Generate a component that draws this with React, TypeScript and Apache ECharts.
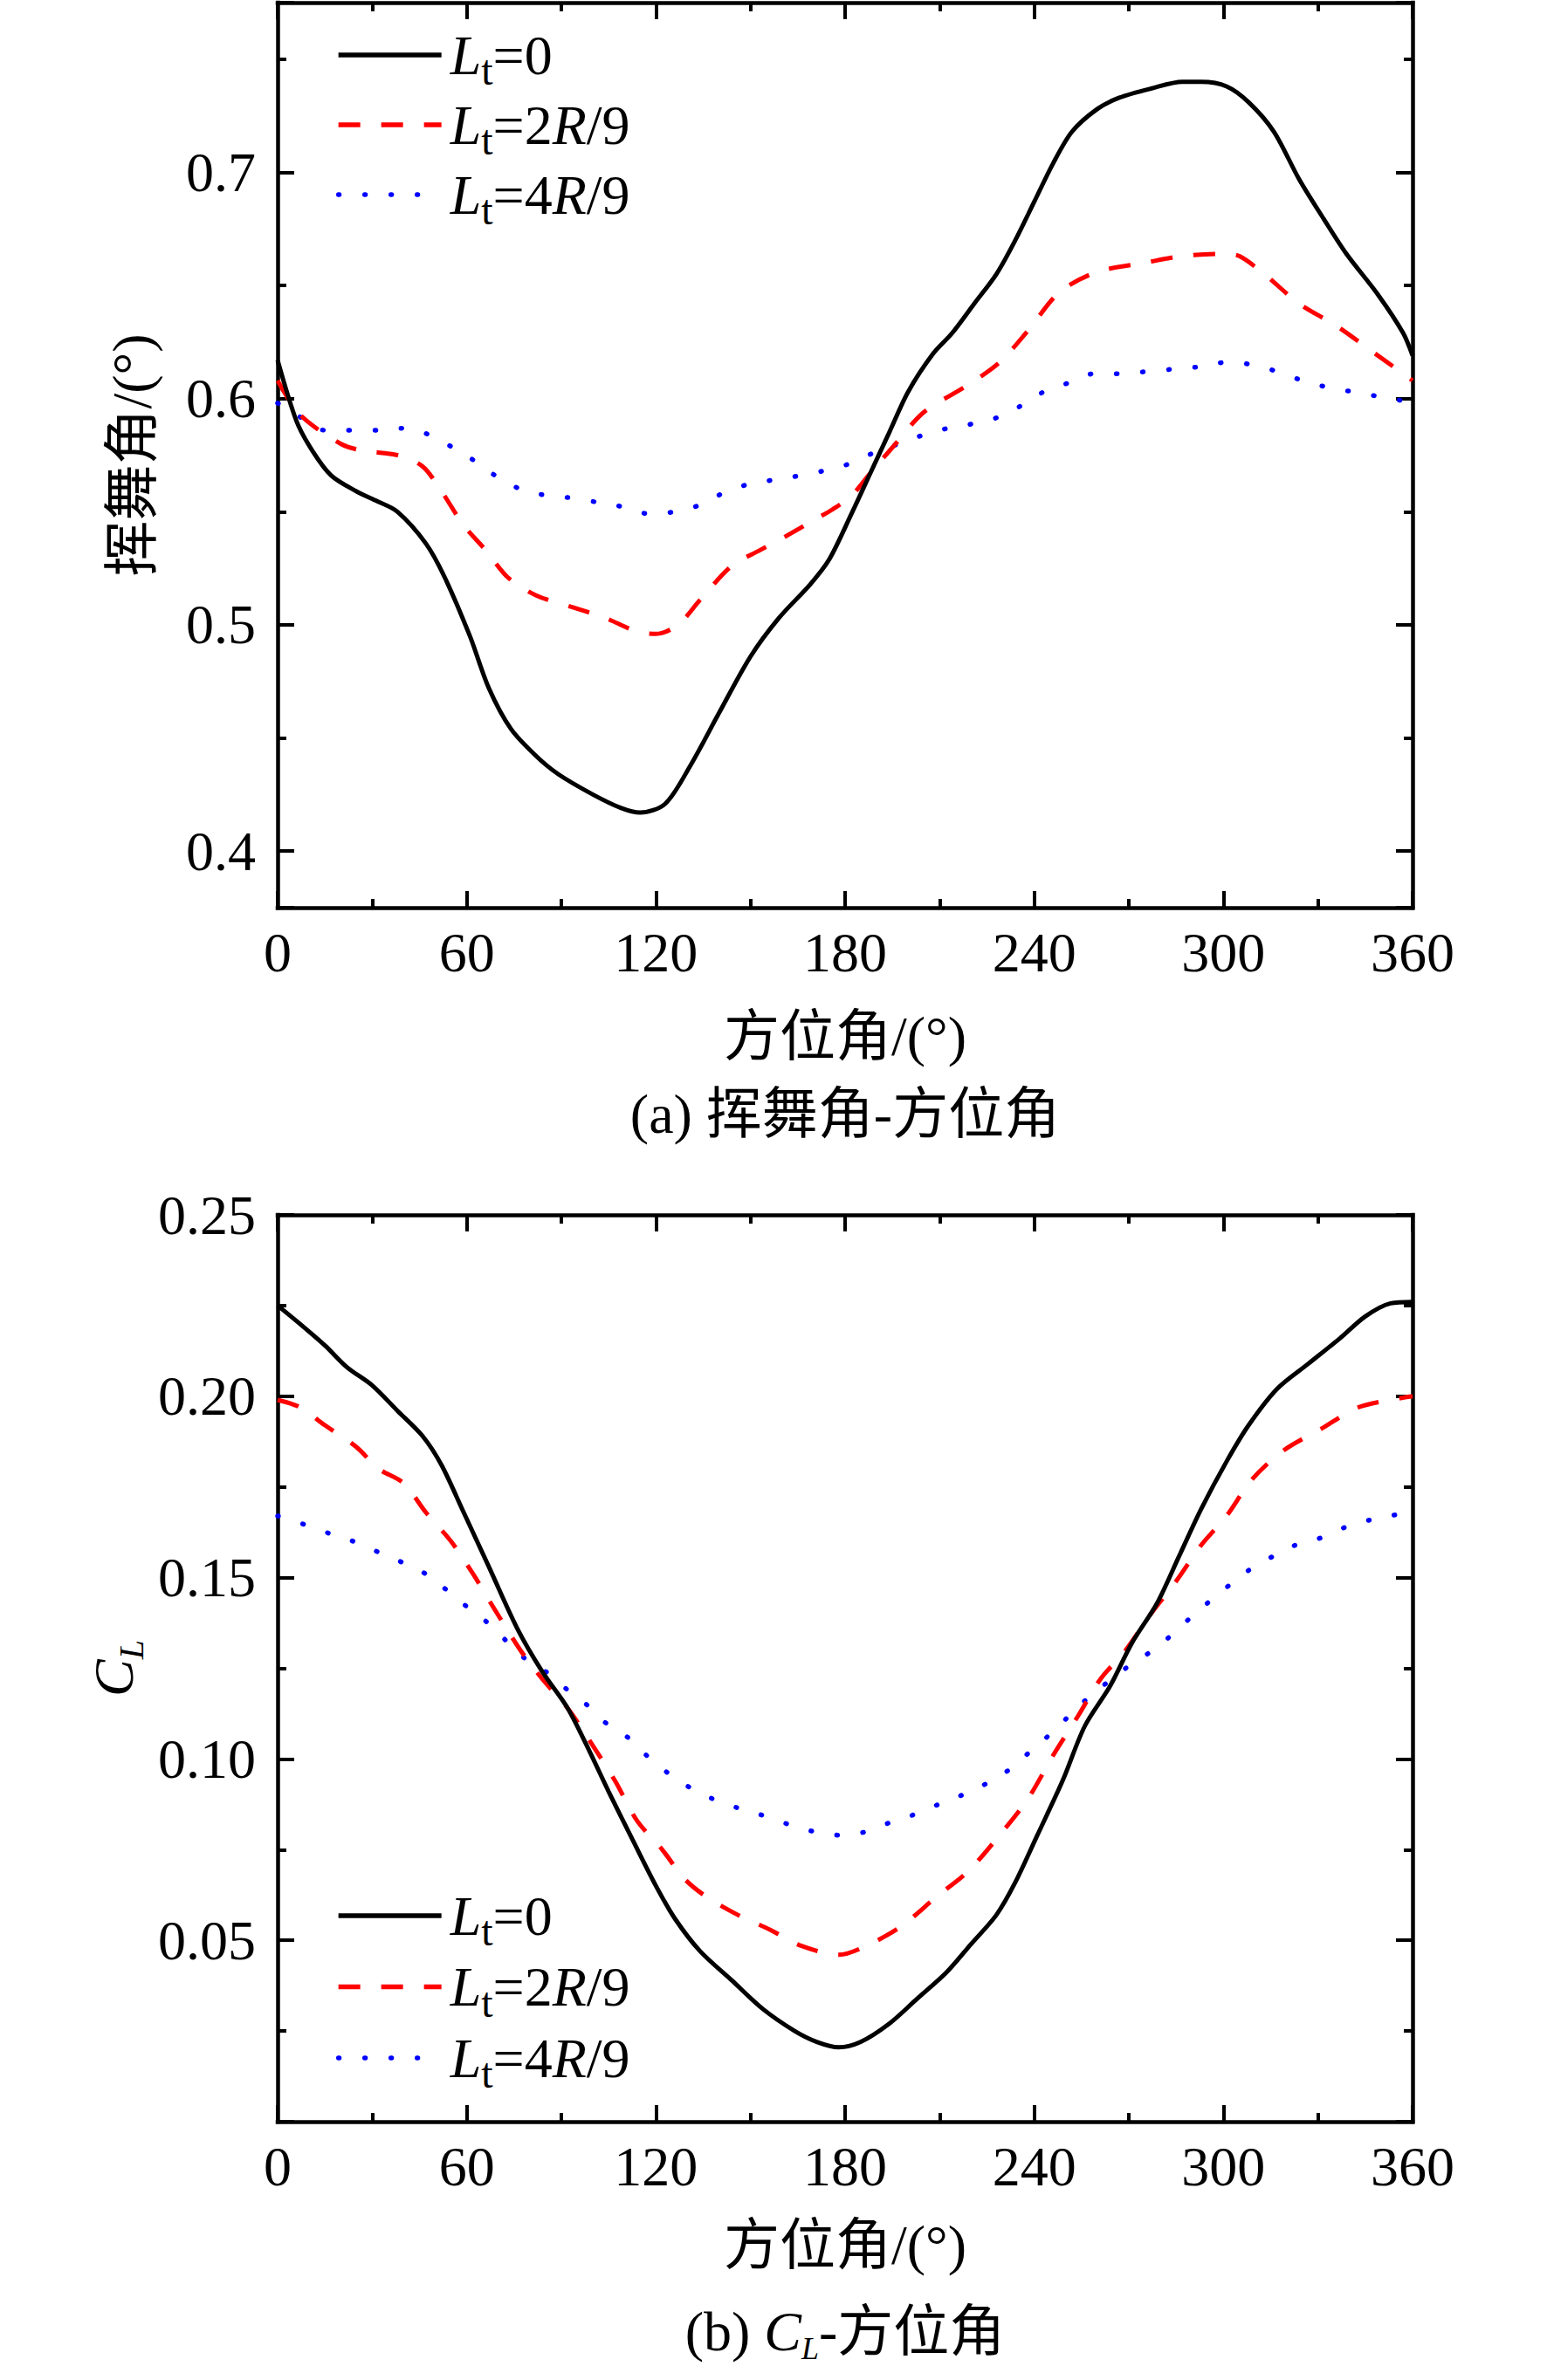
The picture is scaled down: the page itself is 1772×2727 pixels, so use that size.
import React, { useEffect, useRef } from "react";
import * as echarts from "echarts";

// ---------- data ----------
const SERIES_NAMES = ["Lt=0", "Lt=2R/9", "Lt=4R/9"];
const SERIES_COLORS = ["#000000", "#ff0000", "#0000ff"];

// (a) flapping angle vs azimuth
const A_BLACK_X = [0, 6, 11, 17, 25, 31, 38, 47, 53, 61, 67, 74, 82, 89, 100, 109, 115, 123, 131, 140, 150, 159, 169, 175, 182, 188, 194, 200, 208, 214, 221, 228, 234, 240, 246, 252, 260, 267, 277, 287, 293, 301, 308, 316, 324, 332, 339, 349, 357, 360];
const A_BLACK_Y = [0.617, 0.590, 0.577, 0.566, 0.559, 0.555, 0.550, 0.536, 0.521, 0.495, 0.472, 0.454, 0.442, 0.434, 0.425, 0.419, 0.417, 0.421, 0.438, 0.461, 0.486, 0.503, 0.518, 0.529, 0.549, 0.567, 0.585, 0.603, 0.620, 0.629, 0.642, 0.655, 0.670, 0.687, 0.704, 0.718, 0.728, 0.733, 0.737, 0.740, 0.740, 0.738, 0.731, 0.718, 0.697, 0.679, 0.664, 0.646, 0.629, 0.619];

const A_RED_X = [0, 7, 20, 27, 38, 46, 52, 59, 66, 73, 82, 93, 104, 114, 120, 127, 134, 144, 153, 161, 171, 176, 182, 188, 196, 205, 219, 229, 238, 248, 260, 275, 287, 300, 305, 313, 324, 336, 348, 360];
const A_RED_Y = [0.608, 0.593, 0.580, 0.577, 0.575, 0.570, 0.559, 0.544, 0.533, 0.521, 0.513, 0.508, 0.503, 0.497, 0.496, 0.500, 0.511, 0.526, 0.533, 0.539, 0.547, 0.551, 0.557, 0.567, 0.580, 0.594, 0.606, 0.616, 0.630, 0.647, 0.656, 0.660, 0.663, 0.664, 0.663, 0.655, 0.642, 0.632, 0.620, 0.608];

const A_BLUE_X = [0, 7, 15, 25, 32, 41, 48, 56, 63, 69, 77, 86, 94, 102, 110, 118, 126, 134, 141, 149, 157, 166, 173, 181, 189, 197, 205, 213, 221, 229, 236, 243, 251, 259, 267, 276, 284, 292, 301, 309, 317, 325, 333, 341, 349, 357, 360];
const A_BLUE_Y = [0.598, 0.592, 0.586, 0.586, 0.586, 0.587, 0.584, 0.578, 0.572, 0.566, 0.560, 0.557, 0.556, 0.554, 0.552, 0.549, 0.550, 0.553, 0.558, 0.562, 0.564, 0.566, 0.568, 0.571, 0.576, 0.580, 0.584, 0.587, 0.589, 0.592, 0.597, 0.603, 0.607, 0.611, 0.611, 0.612, 0.613, 0.614, 0.616, 0.615, 0.612, 0.608, 0.605, 0.603, 0.601, 0.599, 0.598];

// (b) lift coefficient vs azimuth
const B_BLACK_X = [0, 7, 15, 22, 30, 38, 46, 52, 59, 67, 76, 84, 92, 99, 105, 113, 120, 126, 134, 144, 154, 164, 171, 178, 185, 194, 203, 212, 220, 228, 234, 241, 249, 256, 264, 271, 279, 286, 293, 301, 308, 317, 327, 337, 345, 353, 360];
const B_BLACK_Y = [0.225, 0.220, 0.214, 0.208, 0.203, 0.196, 0.189, 0.181, 0.168, 0.153, 0.136, 0.124, 0.114, 0.102, 0.091, 0.077, 0.065, 0.056, 0.047, 0.039, 0.031, 0.025, 0.022, 0.0205, 0.022, 0.027, 0.034, 0.041, 0.049, 0.057, 0.066, 0.079, 0.094, 0.109, 0.120, 0.132, 0.143, 0.156, 0.169, 0.182, 0.192, 0.202, 0.209, 0.216, 0.222, 0.2256, 0.226];

const B_RED_X = [0, 7, 15, 25, 32, 40, 47, 55, 62, 69, 77, 84, 92, 99, 107, 114, 122, 129, 136, 146, 156, 166, 178, 188, 198, 209, 219, 229, 238, 246, 254, 261, 269, 277, 285, 293, 301, 309, 319, 331, 343, 360];
const B_RED_Y = [0.199, 0.197, 0.192, 0.186, 0.180, 0.176, 0.168, 0.160, 0.151, 0.141, 0.130, 0.122, 0.114, 0.105, 0.094, 0.083, 0.075, 0.067, 0.062, 0.057, 0.053, 0.0485, 0.046, 0.049, 0.054, 0.062, 0.069, 0.079, 0.089, 0.101, 0.112, 0.122, 0.130, 0.140, 0.149, 0.159, 0.167, 0.177, 0.185, 0.191, 0.197, 0.200];

const B_BLUE_X = [0, 9, 17, 24, 32, 40, 47, 53, 60, 66, 72, 78, 86, 92, 98, 104, 111, 117, 124, 131, 138, 146, 154, 162, 170, 178, 187, 194, 202, 210, 217, 225, 232, 238, 244, 250, 256, 263, 269, 276, 282, 289, 295, 302, 308, 316, 323, 331, 339, 347, 356, 360];
const B_BLUE_Y = [0.167, 0.1645, 0.162, 0.160, 0.157, 0.154, 0.151, 0.147, 0.142, 0.138, 0.133, 0.128, 0.1235, 0.119, 0.115, 0.110, 0.106, 0.101, 0.096, 0.092, 0.089, 0.0865, 0.0844, 0.082, 0.080, 0.079, 0.080, 0.0824, 0.0847, 0.0876, 0.090, 0.0933, 0.097, 0.1015, 0.106, 0.111, 0.116, 0.121, 0.125, 0.129, 0.133, 0.1385, 0.143, 0.148, 0.152, 0.156, 0.159, 0.161, 0.164, 0.166, 0.1675, 0.168];

// axis ranges / ticks
const X_MIN = 0;
const X_MAX = 360;
const X_INTERVAL = 60;
const A_Y_MIN = 0.375;
const A_Y_MAX = 0.775;
const B_Y_MIN = 0;
const B_Y_MAX = 0.25;
const B_Y_INTERVAL = 0.05;

// texts
const A_Y_NAME = "挥舞角/(°)";
const X_NAME = "方位角/(°)";
const A_CAPTION = "(a) 挥舞角-方位角";

// ---------- styles ----------
const SERIF = '"Liberation Serif", "Times New Roman", "Noto Sans CJK SC", serif';
const FS = 64;
const W = 1772;
const H = 2727;
const GRID_LEFT = 318;
const GRID_W = 1300;
const A_TOP = 3;
const A_H = 1037;
const B_TOP = 1392;
const B_H = 1039;

const pairs = (xs: number[], ys: number[]) => xs.map((x, i) => [x, ys[i]]);

const legendRich = {
  f: { fontSize: FS, fontFamily: SERIF, fontStyle: "italic", color: "#000", lineHeight: 64, padding: [0, 0, 0, 5] },
  i: { fontSize: FS, fontFamily: SERIF, fontStyle: "italic", color: "#000", lineHeight: 64 },
  n: { fontSize: FS, fontFamily: SERIF, color: "#000", lineHeight: 64 },
  s: { fontSize: 48, fontFamily: SERIF, color: "#000", lineHeight: 64, padding: [35, 0, 0, 0] },
};

const legendLabel = (name: string) => {
  if (name === SERIES_NAMES[0]) return "{f|L}{s|t}{n|=0}";
  if (name === SERIES_NAMES[1]) return "{f|L}{s|t}{n|=2}{i|R}{n|/9}";
  return "{f|L}{s|t}{n|=4}{i|R}{n|/9}";
};

const axisLineStyle = { color: "#000", width: 4.5, cap: "square" };
const tickStyle = { color: "#000", width: 4 };

function xAxis(gridIndex: number, position: string, labels: boolean, nameGap = 0) {
  return {
    type: "value",
    gridIndex,
    position,
    min: X_MIN,
    max: X_MAX,
    interval: X_INTERVAL,
    axisLine: { show: true, onZero: false, lineStyle: axisLineStyle },
    axisTick: { show: true, inside: true, length: 19, lineStyle: tickStyle },
    minorTick: { show: true, splitNumber: 2, length: 10, lineStyle: tickStyle },
    splitLine: { show: false },
    minorSplitLine: { show: false },
    axisLabel: { show: labels, margin: 19, fontSize: FS, fontFamily: SERIF, color: "#000" },
    name: labels ? X_NAME : "",
    nameLocation: "middle",
    nameGap,
    nameTextStyle: { fontSize: FS, fontFamily: SERIF, color: "#000" },
  };
}

function yAxisBase(gridIndex: number, position: string, labels: boolean) {
  return {
    type: "value",
    gridIndex,
    position,
    axisLine: { show: true, onZero: false, lineStyle: axisLineStyle },
    axisTick: { show: true, inside: true, length: 19, lineStyle: tickStyle },
    minorTick: { show: true, splitNumber: 2, length: 10, lineStyle: tickStyle },
    splitLine: { show: false },
    minorSplitLine: { show: false },
    axisLabel: { show: labels, margin: 25, fontSize: FS, fontFamily: SERIF, color: "#000" },
  };
}

const aYLabel = (v: number) => {
  const t = v * 10;
  if (Math.abs(t - Math.round(t)) < 1e-6 && v > A_Y_MIN + 1e-6 && v < A_Y_MAX - 1e-6) return v.toFixed(1);
  return "";
};
const bYLabel = (v: number) => (v < 1e-9 ? "" : v.toFixed(2));

function makeSeries(names: string[], xi: number, yi: number, data: number[][][]) {
  const styles = [
    { width: 5, type: "solid", cap: "butt" },
    { width: 5, type: [25, 24], cap: "butt" },
    { width: 5.5, type: [1, 29], cap: "round" },
  ];
  return names.map((name, k) => ({
    type: "line",
    name,
    xAxisIndex: xi,
    yAxisIndex: yi,
    data: data[k],
    symbol: "none",
    showSymbol: false,
    smooth: 0.3,
    animation: false,
    lineStyle: { color: SERIES_COLORS[k], ...styles[k] },
    itemStyle: { color: SERIES_COLORS[k] },
    z: 5 - k,
  }));
}

function legend(top: number, itemGap: number) {
  return {
    orient: "vertical",
    left: 385,
    top,
    padding: 0,
    itemWidth: 118,
    itemHeight: 20,
    itemGap,
    selectedMode: false,
    data: SERIES_NAMES,
    formatter: legendLabel,
    itemStyle: { opacity: 0 },
    lineStyle: { width: 5.3 },
    textStyle: { fontSize: FS, fontFamily: SERIF, color: "#000", rich: legendRich },
  };
}

export default function App() {
  const ref = useRef<HTMLDivElement>(null);
  useEffect(() => {
    document.body.style.margin = "0";
    if (!ref.current) return;
    const chart = echarts.init(ref.current, null, { renderer: "svg" });
    const option = {
      animation: false,
      backgroundColor: "#ffffff",
      grid: [
        { left: GRID_LEFT, top: A_TOP, width: GRID_W, height: A_H, containLabel: false },
        { left: GRID_LEFT, top: B_TOP, width: GRID_W, height: B_H, containLabel: false },
      ],
      xAxis: [xAxis(0, "bottom", true, 115), xAxis(0, "top", false), xAxis(1, "bottom", true, 109), xAxis(1, "top", false)],
      yAxis: [
        {
          ...yAxisBase(0, "left", true),
          min: A_Y_MIN,
          max: A_Y_MAX,
          axisLabel: { ...yAxisBase(0, "left", true).axisLabel, formatter: aYLabel },
          name: A_Y_NAME,
          nameLocation: "middle",
          nameRotate: 90,
          nameGap: 135,
          nameTextStyle: { fontSize: FS, fontFamily: SERIF, color: "#000" },
        },
        { ...yAxisBase(0, "right", false), min: A_Y_MIN, max: A_Y_MAX },
        {
          ...yAxisBase(1, "left", true),
          min: B_Y_MIN,
          max: B_Y_MAX,
          interval: B_Y_INTERVAL,
          axisLabel: { ...yAxisBase(1, "left", true).axisLabel, formatter: bYLabel },
          name: "{i|C}{s|L}",
          nameLocation: "middle",
          nameRotate: 90,
          nameGap: 142,
          nameTextStyle: {
            fontSize: FS,
            fontFamily: SERIF,
            color: "#000",
            rich: {
              i: { fontSize: FS, fontFamily: SERIF, fontStyle: "italic", color: "#000", lineHeight: 64 },
              s: { fontSize: 40, fontFamily: SERIF, fontStyle: "italic", color: "#000", lineHeight: 64, padding: [40, 0, 0, 0] },
            },
          },
        },
        { ...yAxisBase(1, "right", false), min: B_Y_MIN, max: B_Y_MAX, interval: B_Y_INTERVAL },
      ],
      legend: [legend(21.5, -3), legend(2153.5, -1.5)],
      series: [
        ...makeSeries(SERIES_NAMES, 0, 0, [pairs(A_BLACK_X, A_BLACK_Y), pairs(A_RED_X, A_RED_Y), pairs(A_BLUE_X, A_BLUE_Y)]),
        ...makeSeries(SERIES_NAMES, 2, 2, [pairs(B_BLACK_X, B_BLACK_Y), pairs(B_RED_X, B_RED_Y), pairs(B_BLUE_X, B_BLUE_Y)]),
      ],
      graphic: [
        {
          type: "text",
          x: GRID_LEFT + GRID_W / 2,
          y: 1276,
          style: {
            text: A_CAPTION,
            fontSize: FS,
            fontFamily: SERIF,
            fill: "#000",
            align: "center",
            verticalAlign: "middle",
            textAlign: "center",
            textVerticalAlign: "middle",
          },
        },
        {
          type: "text",
          x: GRID_LEFT + GRID_W / 2,
          y: 2671,
          style: {
            text: "{n|(b) }{i|C}{s|L}{n|-方位角}",
            fontSize: FS,
            fontFamily: SERIF,
            fill: "#000",
            align: "center",
            verticalAlign: "middle",
            textAlign: "center",
            textVerticalAlign: "middle",
            rich: {
              n: { fontSize: FS, fontFamily: SERIF, fill: "#000", lineHeight: 64 },
              i: { fontSize: FS, fontFamily: SERIF, fontStyle: "italic", fill: "#000", lineHeight: 64 },
              s: { fontSize: 36, fontFamily: SERIF, fontStyle: "italic", fill: "#000", lineHeight: 64, padding: [40, 0, 0, 0] },
            },
          },
        },
      ],
    };
    chart.setOption(option as any);
    return () => chart.dispose();
  }, []);
  return <div ref={ref} style={{ width: W, height: H }} />;
}
